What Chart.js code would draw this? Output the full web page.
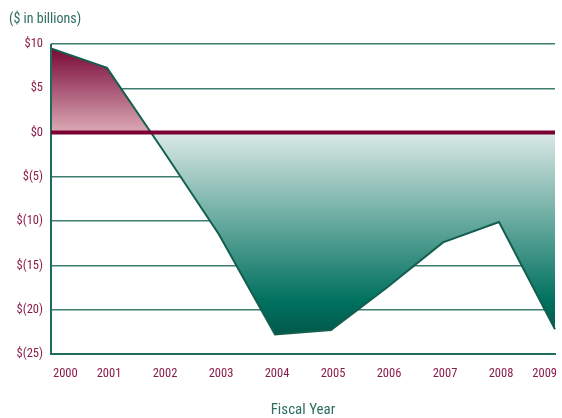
<!DOCTYPE html>
<html>
<head>
<meta charset="utf-8">
<script src="https://cdn.jsdelivr.net/npm/chart.js@4.4.1/dist/chart.umd.min.js"></script>
<style>
  html, body { margin: 0; padding: 0; background: #fff; }
  #wrap { width: 562px; height: 418px; }
</style>
</head>
<body>
<div id="wrap"><canvas id="chart"></canvas></div>
<script>
const years = ["2000","2001","2002","2003","2004","2005","2006","2007","2008","2009"];
const balances = [9.5, 7.3, -2.0, -11.5, -22.8, -22.3, -17.5, -12.4, -10.1, -22.2];
const yMin = -25, yMax = 10, yStep = 5;
const unitsText = "($ in billions)";
const xTitle = "Fiscal Year";

const FONT = "'Liberation Sans Narrow', 'Roboto Condensed', 'DejaVu Sans Condensed', sans-serif";
const maroon = "#8a1c48";
const green = "#2d6e5e";

function fmtMoney(v) {
  return v >= 0 ? "$" + v : "$(" + (-v) + ")";
}

// one vertical gradient: maroon above zero, green below
function fillGradient(context) {
  const chart = context.chart;
  const area = chart.chartArea;
  if (!area) return null;
  const y = chart.scales.y;
  const h = area.bottom - area.top;
  const pos = v => Math.min(1, Math.max(0, (y.getPixelForValue(v) - area.top) / h));
  const g = chart.ctx.createLinearGradient(0, area.top, 0, area.bottom);
  g.addColorStop(0, "#730030");
  g.addColorStop(pos(0) - 0.001, "#dcaab6");
  g.addColorStop(pos(0), "#dbe9e6");
  g.addColorStop(pos(-19), "#00715f");
  g.addColorStop(pos(-23), "#00584a");
  g.addColorStop(1, "#00503f");
  return g;
}

const overlay = {
  id: "overlay",
  afterDatasetsDraw(chart) {
    const ctx = chart.ctx;
    const a = chart.chartArea;
    const y0 = chart.scales.y.getPixelForValue(0);
    ctx.save();
    // left axis line over the fill
    ctx.strokeStyle = "#1f6b5a";
    ctx.lineWidth = 2;
    ctx.beginPath();
    ctx.moveTo(a.left, a.top);
    ctx.lineTo(a.left, a.bottom + 1);
    ctx.stroke();
    // zero line
    ctx.strokeStyle = "#7a0032";
    ctx.lineWidth = 4;
    ctx.beginPath();
    ctx.moveTo(a.left, y0);
    ctx.lineTo(a.right, y0);
    ctx.stroke();
    ctx.restore();
  },
  afterDraw(chart) {
    const ctx = chart.ctx;
    ctx.save();
    ctx.fillStyle = green;
    ctx.font = "14px " + FONT;
    ctx.textBaseline = "middle";
    ctx.textAlign = "left";
    ctx.fillText(unitsText, 9, 19);
    ctx.restore();
  }
};

new Chart(document.getElementById("chart"), {
  type: "line",
  data: {
    labels: years,
    datasets: [{
      data: balances,
      borderColor: "#135e4e",
      borderWidth: 2,
      pointRadius: 0,
      tension: 0,
      fill: "origin",
      backgroundColor: fillGradient
    }]
  },
  options: {
    responsive: true,
    maintainAspectRatio: false,
    animation: false,
    layout: {
      autoPadding: false,
      padding: { top: 44, right: 7, bottom: 0, left: 0 }
    },
    plugins: {
      legend: { display: false },
      tooltip: { enabled: false }
    },
    scales: {
      x: {
        offset: false,
        grid: { display: false, drawTicks: false },
        border: { display: true, color: "#1f6b5a", width: 2 },
        ticks: {
          color: maroon,
          font: { family: FONT, size: 12.5 },
          padding: 12,
          maxRotation: 0,
          autoSkip: false,
          align: "inner",
          labelOffset: 2
        },
        title: {
          display: true,
          text: xTitle,
          color: green,
          font: { family: FONT, size: 15, lineHeight: 1 },
          padding: { top: 0, bottom: 0 }
        },
        afterFit(scale) {
          scale.height = 64;
          scale.paddingLeft = 0;
          scale.paddingRight = 0;
        }
      },
      y: {
        min: yMin,
        max: yMax,
        grid: { color: "#3f7d6e", lineWidth: 1.5, drawTicks: false },
        border: { display: false },
        ticks: {
          stepSize: yStep,
          color: maroon,
          font: { family: FONT, size: 12.5 },
          padding: 8,
          callback: v => fmtMoney(v)
        },
        afterFit(scale) {
          scale.width = 51;
          scale.paddingTop = 0;
          scale.paddingBottom = 0;
        }
      }
    }
  },
  plugins: [overlay]
});
</script>
</body>
</html>
